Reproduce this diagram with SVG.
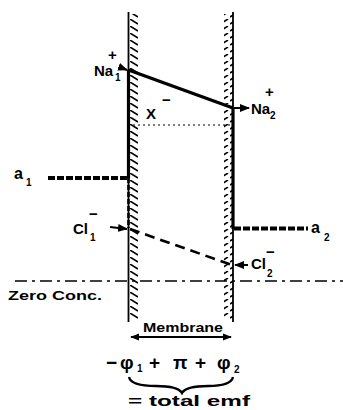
<svg xmlns="http://www.w3.org/2000/svg" width="343" height="410" viewBox="0 0 343 410">
<defs>
<marker id="ah" viewBox="0 0 10 10" refX="9" refY="5" markerWidth="5" markerHeight="5" orient="auto-start-reverse">
<path d="M0,1 L10,5 L0,9 Z" fill="#000"/>
</marker>
<pattern id="hl" width="10" height="7" patternUnits="userSpaceOnUse" y="12">
<line x1="0" y1="0" x2="8" y2="5" stroke="#000" stroke-width="1.5"/>
</pattern>
<pattern id="hr" width="10" height="7" patternUnits="userSpaceOnUse" y="12">
<line x1="0" y1="5" x2="8" y2="0" stroke="#000" stroke-width="1.5"/>
</pattern>
</defs>
<style>
text{font-family:"Liberation Sans","DejaVu Sans",sans-serif;fill:#000;font-weight:bold}
.lbl{font-size:15px}
.sub{font-size:10px}
.f{font-size:19px}
.thin{stroke:#000;stroke-width:1.8;fill:none}
.thick{stroke:#000;stroke-width:3.2;fill:none}
</style>
<rect width="343" height="410" fill="#fff"/>
<g id="membrane">
<rect x="129" y="14" width="9" height="306" fill="url(#hl)"/>
<rect x="224" y="14" width="9" height="306" fill="url(#hr)"/>
<line class="thin" x1="128.5" y1="12" x2="128.5" y2="322"/>
<line class="thin" x1="233" y1="12" x2="233" y2="322"/>
</g>
<g id="connectors">
<line class="thick" x1="128.5" y1="70" x2="233" y2="108"/>
<line class="thick" x1="128.5" y1="70" x2="128.5" y2="178"/>
<line x1="128.5" y1="178" x2="128.5" y2="228" stroke="#000" stroke-width="2.6" stroke-dasharray="5,2"/>
<line class="thick" x1="233" y1="108" x2="233" y2="229"/>
<line x1="133" y1="125" x2="232" y2="125" stroke="#000" stroke-width="1.2" stroke-dasharray="2,3"/>
<line x1="48" y1="178" x2="128" y2="178" stroke="#000" stroke-width="4" stroke-dasharray="7,2"/>
<line x1="234" y1="228.5" x2="308" y2="228.5" stroke="#000" stroke-width="4" stroke-dasharray="7,2"/>
<line x1="130" y1="229" x2="232" y2="265" stroke="#000" stroke-width="2.6" stroke-dasharray="10,6"/>
<line x1="15" y1="281" x2="343" y2="281" stroke="#000" stroke-width="1.4" stroke-dasharray="12,5,3,5"/>
<line x1="119" y1="67" x2="127" y2="70" stroke="#000" stroke-width="2" marker-end="url(#ah)"/>
<line x1="234" y1="108" x2="249" y2="108" stroke="#000" stroke-width="2" marker-end="url(#ah)"/>
<line x1="110" y1="227" x2="127" y2="229" stroke="#000" stroke-width="2" marker-end="url(#ah)"/>
<line x1="248" y1="265" x2="235" y2="265" stroke="#000" stroke-width="2" marker-end="url(#ah)"/>
<line x1="131" y1="337" x2="231" y2="337" stroke="#000" stroke-width="1.8" marker-start="url(#ah)" marker-end="url(#ah)"/>
<path d="M129,377 Q131,386 156,386 Q178,386 182,393 Q186,386 208,386 Q231,386 233,377" fill="none" stroke="#000" stroke-width="2.4"/>
</g>
<g id="labels">
<text class="lbl" x="94" y="76">Na</text><text class="sub" x="115" y="81">1</text><text class="lbl" x="108" y="60">+</text>
<text class="lbl" x="251" y="114">Na</text><text class="sub" x="270" y="119">2</text><text class="lbl" x="265" y="97">+</text>
<text class="lbl" x="146" y="119" font-size="16">X</text><text class="lbl" x="162" y="105">−</text>
<text x="14" y="179" font-size="16">a</text><text class="sub" x="26" y="186">1</text>
<text x="311" y="233" font-size="16">a</text><text class="sub" x="324" y="241" font-size="12">2</text>
<text class="lbl" x="73" y="234">Cl</text><text class="sub" x="90" y="241">1</text><text class="lbl" x="89" y="219">−</text>
<text class="lbl" x="251" y="269">Cl</text><text class="sub" x="267" y="277" font-size="12">2</text><text class="lbl" x="266" y="257">−</text>
<text x="8" y="300" font-size="13" textLength="94" lengthAdjust="spacingAndGlyphs">Zero Conc.</text>
<text x="143" y="332" font-size="13" textLength="80" lengthAdjust="spacingAndGlyphs">Membrane</text>
<text class="f" x="106" y="369">−</text>
<text class="f" x="120" y="369">φ</text><text class="sub" x="137" y="372" font-size="12">1</text>
<text class="f" x="149" y="369">+</text>
<text class="f" x="173" y="369">π</text>
<text class="f" x="195" y="369">+</text>
<text class="f" x="217" y="369">φ</text><text class="sub" x="234" y="373" font-size="14">2</text>
<text x="128" y="406" font-size="15" textLength="122" lengthAdjust="spacingAndGlyphs">= total  emf</text>
</g>
</svg>
